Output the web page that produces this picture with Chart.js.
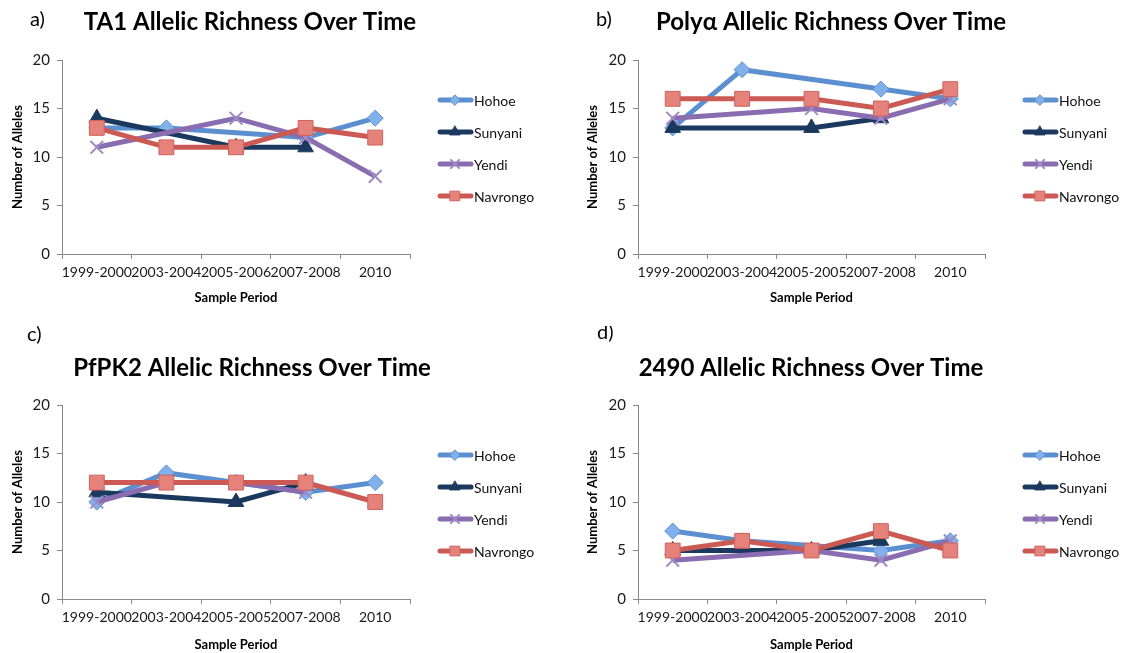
<!DOCTYPE html>
<html>

<head>
  <script src="https://cdn.jsdelivr.net/npm/chart.js"></script>
  <style>
    body { margin: 0; background: #fff; }
    #wrap { position: relative; width: 1123px; height: 653px; overflow: hidden; }
    canvas { position: absolute; }
  </style>
</head>

<body>
  <div id="wrap">
    <canvas id="chartA" width="561" height="326" style="left:0;top:0"></canvas>
    <canvas id="chartB" width="562" height="326" style="left:561px;top:0"></canvas>
    <canvas id="chartC" width="561" height="327" style="left:0;top:326px"></canvas>
    <canvas id="chartD" width="562" height="327" style="left:561px;top:326px"></canvas>
  </div>

  <script>
    // sample periods (the later loci were labelled 2005-2005 in the source sheet)
    const periodsTA1 = ["1999-2000", "2003-2004", "2005-2006", "2007-2008", "2010"];
    const periodsOther = ["1999-2000", "2003-2004", "2005-2005", "2007-2008", "2010"];
    const sites = ["Hohoe", "Sunyani", "Yendi", "Navrongo"];

    // allele counts per site, null = not sampled
    const ta1Hohoe = [13, 13, null, 12, 14];
    const ta1Sunyani = [14, null, 11, 11, null];
    const ta1Yendi = [11, null, 14, 12, 8];
    const ta1Navrongo = [13, 11, 11, 13, 12];

    const polyaHohoe = [13, 19, null, 17, 16];
    const polyaSunyani = [13, null, 13, 14, null];
    const polyaYendi = [14, null, 15, 14, 16];
    const polyaNavrongo = [16, 16, 16, 15, 17];

    const pfpk2Hohoe = [10, 13, 12, 11, 12];
    const pfpk2Sunyani = [11, null, 10, 12, null];
    const pfpk2Yendi = [10, 12, 12, 11, null];
    const pfpk2Navrongo = [12, 12, 12, 12, 10];

    const m2490Hohoe = [7, 6, null, 5, 6];
    const m2490Sunyani = [5, null, 5, 6, null];
    const m2490Yendi = [4, null, 5, 4, 6];
    const m2490Navrongo = [5, 6, 5, 7, 5];

    const yTicks = [0, 5, 10, 15, 20];

    const FONT = "Lato, 'Open Sans', sans-serif";
    const AXIS_GRAY = "#8a8a8a";

    // line + marker look for each site
    const siteStyle = {
      Hohoe: { line: "#5b8fcf", fill: "#80b1ea", border: "#5b8fcf", point: "rectRot", radius: 8, bw: 1, order: 3 },
      Sunyani: { line: "#1b395e", fill: "#1b395e", border: "#1b395e", point: "triangle", radius: 9, bw: 1, order: 2 },
      Yendi: { line: "#8a6cb0", fill: "#a58fcb", border: "#a08ac6", point: "crossRot", radius: 9, bw: 2, order: 1 },
      Navrongo: { line: "#cb5a54", fill: "#e6827c", border: "#cf625c", point: "rect", radius: 10.5, bw: 1, order: 0 }
    };

    function newDataset(site, values) {
      const s = siteStyle[site];
      return {
        label: site,
        data: values,
        borderColor: s.line,
        borderWidth: 5,
        backgroundColor: s.fill,
        pointStyle: s.point,
        pointRadius: s.radius,
        pointHoverRadius: s.radius,
        pointBackgroundColor: s.fill,
        pointBorderColor: s.border,
        pointBorderWidth: s.bw,
        tension: 0,
        spanGaps: true,
        order: s.order
      };
    }

    // legend drawn as line sample with marker, like the spreadsheet legend
    const lineLegend = {
      id: "lineLegend",
      afterDraw(chart, args, opts) {
        const ctx = chart.ctx;
        const x = chart.chartArea.right + opts.gap;
        chart.data.datasets.forEach((ds, i) => {
          const y = opts.top + i * 32;
          ctx.save();
          ctx.strokeStyle = ds.borderColor;
          ctx.lineWidth = 5;
          ctx.lineCap = "round";
          ctx.beginPath();
          ctx.moveTo(x + 2, y);
          ctx.lineTo(x + 33, y);
          ctx.stroke();
          if (Chart.helpers && Chart.helpers.drawPoint) {
            ctx.fillStyle = ds.pointBackgroundColor;
            ctx.strokeStyle = ds.pointBorderColor;
            ctx.lineWidth = ds.pointBorderWidth;
            Chart.helpers.drawPoint(ctx, {
              pointStyle: ds.pointStyle,
              radius: ds.pointRadius * 0.65,
              rotation: 0,
              borderWidth: ds.pointBorderWidth
            }, x + 17, y);
          }
          ctx.fillStyle = "#111";
          ctx.font = "14px " + FONT;
          ctx.textBaseline = "middle";
          ctx.textAlign = "left";
          ctx.fillText(ds.label, x + 36, y + 1);
          ctx.restore();
        });
      }
    };

    // panel letter and chart heading
    const panelHeading = {
      id: "panelHeading",
      afterDraw(chart, args, opts) {
        const ctx = chart.ctx;
        ctx.save();
        ctx.fillStyle = "#000";
        ctx.textBaseline = "middle";
        ctx.textAlign = "left";
        ctx.font = "20px " + FONT;
        ctx.fillText(opts.letter, opts.letterX, opts.letterY);
        ctx.textAlign = "center";
        ctx.font = "bold 24px " + FONT;
        ctx.fillText(opts.title, opts.titleX, opts.titleY);
        ctx.restore();
      }
    };

    function drawPanel(id, p) {
      const ctx = document.getElementById(id).getContext("2d");
      const canvasH = ctx.canvas.height;
      return new Chart(ctx, {
        type: "line",
        data: {
          labels: p.labels,
          datasets: sites.map((site, i) => newDataset(site, p.series[i]))
        },
        plugins: [lineLegend, panelHeading],
        options: {
          responsive: false,
          animation: false,
          events: [],
          layout: { padding: { left: 0, right: p.padRight, top: p.top, bottom: 0 } },
          scales: {
            x: {
              offset: true,
              grid: { offset: true, drawOnChartArea: false, drawTicks: true, tickLength: 5, color: AXIS_GRAY },
              border: { display: true, color: AXIS_GRAY, width: 1 },
              ticks: { color: "#1a1a1a", font: { family: FONT, size: 14 }, maxRotation: 0, autoSkip: false, padding: 5 },
              title: {
                display: true, text: "Sample Period", color: "#000",
                font: { family: FONT, size: 13, weight: "bold" },
                padding: { top: 0, bottom: p.xTitlePad }
              },
              afterFit(scale) { scale.height = canvasH - p.bottom; }
            },
            y: {
              min: 0,
              max: 20,
              afterBuildTicks(scale) { scale.ticks = yTicks.map(v => ({ value: v })); },
              grid: { drawOnChartArea: false, drawTicks: true, tickLength: 5, color: AXIS_GRAY },
              border: { display: true, color: AXIS_GRAY, width: 1 },
              ticks: { color: "#1a1a1a", font: { family: FONT, size: 15 }, padding: 7 },
              title: {
                display: true, text: "Number of Alleles", color: "#000",
                font: { family: FONT, size: 13, weight: "bold" },
                padding: { top: p.yTitlePad, bottom: 0 }
              },
              afterFit(scale) { scale.width = p.left; }
            }
          },
          plugins: {
            legend: { display: false },
            tooltip: { enabled: false },
            title: { display: false },
            lineLegend: { gap: p.legendGap, top: p.legendTop },
            panelHeading: {
              letter: p.letter, letterX: p.letterX, letterY: p.letterY,
              title: p.title, titleX: p.titleX, titleY: p.titleY
            }
          }
        }
      });
    }

    drawPanel("chartA", {
      letter: "a)", letterX: 30, letterY: 20,
      title: "TA1 Allelic Richness Over Time", titleX: 250, titleY: 22,
      labels: periodsTA1,
      series: [ta1Hohoe, ta1Sunyani, ta1Yendi, ta1Navrongo],
      left: 62, top: 60, bottom: 254, padRight: 151,
      xTitlePad: 20, yTitlePad: 10,
      legendGap: 28, legendTop: 100
    });

    drawPanel("chartB", {
      letter: "b)", letterX: 35, letterY: 20,
      title: "Polyα Allelic Richness Over Time", titleX: 270, titleY: 22,
      labels: periodsOther,
      series: [polyaHohoe, polyaSunyani, polyaYendi, polyaNavrongo],
      left: 77, top: 60, bottom: 254, padRight: 138,
      xTitlePad: 20, yTitlePad: 24,
      legendGap: 38, legendTop: 100
    });

    drawPanel("chartC", {
      letter: "c)", letterX: 27, letterY: 9,
      title: "PfPK2 Allelic Richness Over Time", titleX: 252, titleY: 42,
      labels: periodsOther,
      series: [pfpk2Hohoe, pfpk2Sunyani, pfpk2Yendi, pfpk2Navrongo],
      left: 62, top: 79, bottom: 273, padRight: 151,
      xTitlePad: 0, yTitlePad: 10,
      legendGap: 28, legendTop: 129
    });

    drawPanel("chartD", {
      letter: "d)", letterX: 36, letterY: 7,
      title: "2490 Allelic Richness Over Time", titleX: 250, titleY: 42,
      labels: periodsOther,
      series: [m2490Hohoe, m2490Sunyani, m2490Yendi, m2490Navrongo],
      left: 77, top: 79, bottom: 273, padRight: 138,
      xTitlePad: 0, yTitlePad: 24,
      legendGap: 38, legendTop: 129
    });
  </script>
</body>

</html>
